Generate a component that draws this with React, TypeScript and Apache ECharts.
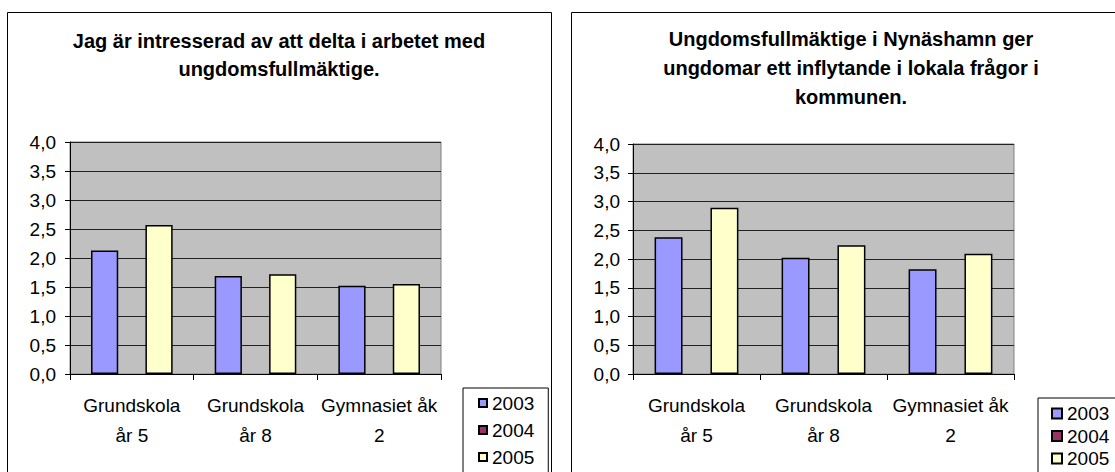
import React, { useEffect, useRef } from "react";
import * as echarts from "echarts";

const categories = ["Grundskola\når 5", "Grundskola\når 8", "Gymnasiet åk\n2"];
const years = ["2003", "2004", "2005"];
const leftValues2003 = [2.13, 1.69, 1.52];
const leftValues2004: (number | null)[] = [null, null, null];
const leftValues2005 = [2.57, 1.72, 1.55];
const rightValues2003 = [2.38, 2.02, 1.82];
const rightValues2004: (number | null)[] = [null, null, null];
const rightValues2005 = [2.89, 2.24, 2.09];
const leftTitle = "Jag är intresserad av att delta i arbetet med\nungdomsfullmäktige.";
const rightTitle = "Ungdomsfullmäktige i Nynäshamn ger\nungdomar ett inflytande i lokala frågor i\nkommunen.";

const yearColors = ["#9999FF", "#993366", "#FFFFCC"];
const FONT = "'Liberation Sans', Arial, sans-serif";

export default function App() {
  const ref = useRef<HTMLDivElement>(null);
  useEffect(() => {
    if (!ref.current) return;
    const chart = echarts.init(ref.current, undefined, { renderer: "svg" });

    const mkX = (gridIndex: number) => ({
      type: "category",
      gridIndex,
      data: categories,
      axisLine: { show: true, lineStyle: { color: "#000", width: 1 } },
      axisTick: { show: true, length: 6, lineStyle: { color: "#000" } },
      axisLabel: {
        interval: 0,
        color: "#000",
        fontSize: 19,
        fontFamily: FONT,
        lineHeight: 30,
        margin: 16,
      },
      splitLine: { show: false },
    });
    const mkY = (gridIndex: number, margin: number) => ({
      type: "value",
      gridIndex,
      min: 0,
      max: 4,
      interval: 0.5,
      axisLine: { show: true, lineStyle: { color: "#000", width: 1 } },
      axisTick: { show: true, length: 5, lineStyle: { color: "#000" } },
      axisLabel: {
        color: "#000",
        fontSize: 19,
        fontFamily: FONT,
        margin,
        formatter: (v: number) => v.toFixed(1).replace(".", ","),
      },
      splitLine: { show: true, lineStyle: { color: "#222", width: 1 } },
    });
    const mkSeries = (name: string, data: (number | null)[], idx: number, color: string) => ({
      type: "bar",
      name,
      data,
      xAxisIndex: idx,
      yAxisIndex: idx,
      barGap: "0%",
      barCategoryGap: "34%",
      itemStyle: { color, borderColor: "#000", borderWidth: 1.5 },
      emphasis: { disabled: true },
    });

    chart.setOption({
      animation: false,
      backgroundColor: "#fff",
      title: [
        {
          text: leftTitle,
          left: 279,
          top: 27,
          textAlign: "center",
          padding: 0,
          textStyle: { fontSize: 20, fontWeight: "bold", fontFamily: FONT, color: "#000", lineHeight: 28 },
        },
        {
          text: rightTitle,
          left: 851,
          top: 24,
          textAlign: "center",
          padding: 0,
          textStyle: { fontSize: 20, fontWeight: "bold", fontFamily: FONT, color: "#000", lineHeight: 29 },
        },
      ],
      grid: [
        {
          left: 70, top: 142, width: 371, height: 232,
          show: true, backgroundColor: "#C0C0C0", borderColor: "#808080", borderWidth: 1,
          outerBoundsMode: "none", containLabel: false,
        },
        {
          left: 633, top: 144, width: 381, height: 230,
          show: true, backgroundColor: "#C0C0C0", borderColor: "#808080", borderWidth: 1,
          outerBoundsMode: "none", containLabel: false,
        },
      ],
      xAxis: [mkX(0), mkX(1)],
      yAxis: [mkY(0, 14), mkY(1, 13)],
      legend: [
        {
          data: years,
          orient: "vertical",
          left: 463,
          top: 388,
          width: 85,
          height: 200,
          padding: [5, 14, 20, 15],
          itemWidth: 8,
          itemHeight: 8,
          itemGap: 7,
          itemTextGap: 8,
          selectedMode: false,
          borderColor: "#000",
          borderWidth: 1,
          backgroundColor: "#fff",
          icon: "rect",
          textStyle: { fontSize: 19, fontFamily: FONT, color: "#000", lineHeight: 20 },
        },
        {
          data: years,
          orient: "vertical",
          left: 1038,
          top: 398,
          width: 90,
          height: 200,
          padding: [6, 20, 20, 13],
          itemWidth: 10,
          itemHeight: 10,
          itemGap: 3.5,
          itemTextGap: 8,
          selectedMode: false,
          borderColor: "#000",
          borderWidth: 1,
          backgroundColor: "#fff",
          icon: "rect",
          textStyle: { fontSize: 19, fontFamily: FONT, color: "#000", lineHeight: 18 },
        },
      ],
      graphic: [
        {
          type: "rect",
          shape: { x: 7.5, y: 12.5, width: 544, height: 470 },
          style: { fill: "none", stroke: "#000", lineWidth: 1 },
          silent: true,
          z: -1,
        },
        {
          type: "rect",
          shape: { x: 571.5, y: 12.5, width: 560, height: 470 },
          style: { fill: "none", stroke: "#000", lineWidth: 1 },
          silent: true,
          z: -1,
        },
      ],
      series: [
        mkSeries(years[0], leftValues2003, 0, yearColors[0]),
        mkSeries(years[1], leftValues2004, 0, yearColors[1]),
        mkSeries(years[2], leftValues2005, 0, yearColors[2]),
        mkSeries(years[0], rightValues2003, 1, yearColors[0]),
        mkSeries(years[1], rightValues2004, 1, yearColors[1]),
        mkSeries(years[2], rightValues2005, 1, yearColors[2]),
      ],
    });
    return () => chart.dispose();
  }, []);
  return (
    <div
      ref={ref}
      style={{ position: "fixed", left: 0, top: 0, width: 1115, height: 472, background: "#fff" }}
    />
  );
}
